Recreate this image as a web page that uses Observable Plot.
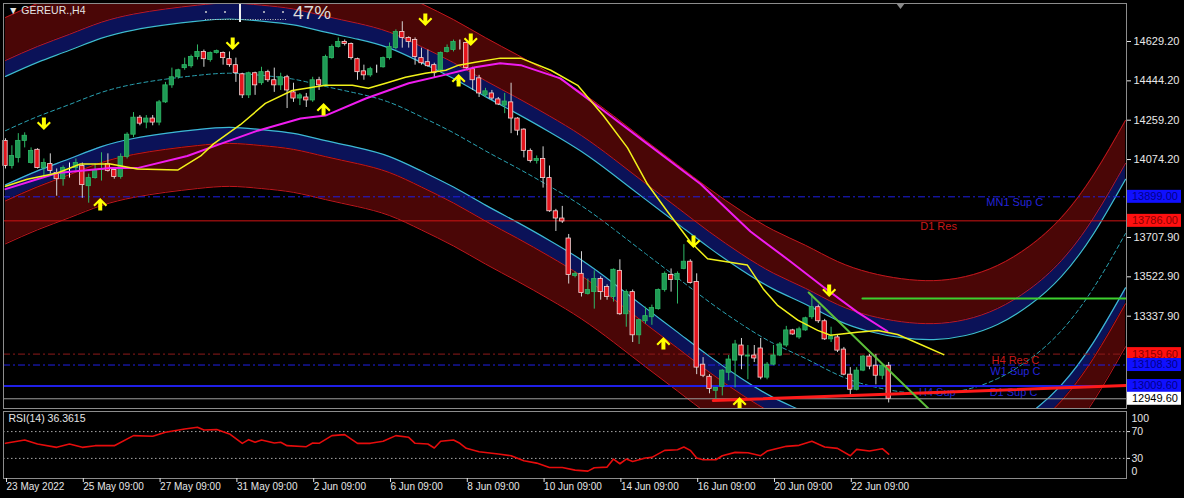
<!DOCTYPE html>
<html><head><meta charset="utf-8">
<script src="https://cdn.jsdelivr.net/npm/d3@7"></script>
<script src="https://cdn.jsdelivr.net/npm/@observablehq/plot@0.6"></script>
<style>
html,body{margin:0;padding:0;background:#000;}
#chart{position:relative;width:1184px;height:498px;background:#000;overflow:hidden;font-family:"Liberation Sans",Arial,sans-serif;}
#chart > svg{position:absolute;left:0;}
.ov{position:absolute;color:#e2e2e2;white-space:nowrap;font-family:"Liberation Sans",Arial,sans-serif;}
</style></head><body><div id="chart"></div>
<script>
// ---------- DATA ----------
const symbolName = "GEREUR.,H4";
const progressText = "47%";
const opens = [14162,14044,14082,14162,14058,14120,14034,14053,14011,13982,
14039,14034,14044,13949,13987,14025,14053,14025,13992,14087,
14191,14271,14248,14267,14248,14343,14423,14461,14504,14513,
14556,14580,14542,14575,14575,14546,14518,14475,14376,14480,
14433,14485,14447,14423,14461,14390,14361,14366,14352,14447,
14423,14551,14603,14627,14617,14546,14489,14470,14510,14508,
14551,14598,14674,14646,14636,14551,14532,14518,14494,14580,
14589,14622,14622,14499,14456,14376,14385,14357,14328,14343,
14267,14215,14115,14068,14077,13987,13831,13797,13703,13527,
13537,13442,13451,13513,13475,13428,13551,13347,13451,13248,
13314,13333,13371,13461,13532,13508,13560,13594,13499,13110,
13053,12987,13006,13072,13129,13200,13148,13153,13186,13049,
13110,13153,13200,13271,13238,13271,13333,13380,13314,13229,
13238,13181,13063,12992,13082,13148,13105,13058,13105];
const highs = [14172,14139,14196,14200,14129,14125,14077,14101,14030,14044,
14058,14077,14058,14006,14053,14106,14101,14030,14101,14200,
14295,14281,14281,14281,14352,14437,14504,14499,14551,14565,
14613,14589,14580,14589,14580,14580,14551,14480,14485,14485,
14508,14494,14504,14480,14470,14433,14385,14385,14461,14461,
14565,14613,14646,14636,14622,14551,14518,14508,14518,14556,
14622,14684,14722,14651,14646,14598,14589,14527,14580,14613,
14636,14636,14627,14508,14470,14409,14399,14366,14385,14433,
14271,14219,14124,14091,14134,14044,13840,13854,13722,13546,
13641,13513,13551,13523,13485,13560,13603,13461,13461,13323,
13380,13390,13466,13546,13560,13546,13674,13603,13537,13143,
13063,13001,13086,13153,13224,13233,13200,13200,13233,13120,
13200,13214,13290,13276,13286,13333,13437,13390,13323,13286,
13248,13191,13096,13096,13153,13158,13158,13110,13120];
const lows = [14030,14030,14058,14129,14053,14030,13987,14006,13902,13949,
13987,14020,13892,13869,13982,13973,14015,13982,13982,14077,
14177,14233,14219,14233,14233,14338,14409,14452,14494,14504,
14542,14508,14532,14570,14518,14508,14437,14361,14361,14376,
14423,14437,14390,14399,14314,14343,14328,14319,14343,14399,
14414,14546,14598,14608,14542,14447,14447,14461,14480,14504,
14542,14589,14598,14598,14518,14518,14508,14456,14485,14575,
14580,14589,14494,14399,14366,14366,14352,14328,14290,14196,
14186,14082,14058,14053,13940,13826,13736,13774,13489,13518,
13428,13437,13371,13413,13413,13404,13342,13286,13214,13205,
13300,13295,13366,13451,13451,13395,13556,13489,13063,13049,
12973,12939,12963,13034,13001,13086,13039,13120,13039,13039,
13105,13148,13191,13248,13229,13267,13323,13304,13224,13214,
13167,13058,12963,12987,13077,13086,13015,13039,12930];
const closes = [14044,14091,14162,14186,14115,14034,14058,14020,13982,14034,
14039,14058,13954,13987,14025,14030,14020,13992,14087,14191,
14271,14243,14267,14248,14343,14423,14461,14494,14518,14556,
14580,14546,14575,14584,14551,14518,14480,14376,14480,14423,
14485,14447,14423,14461,14399,14361,14376,14352,14447,14423,
14556,14603,14627,14617,14551,14485,14470,14499,14510,14551,
14603,14674,14646,14627,14556,14527,14513,14480,14575,14598,
14627,14622,14504,14447,14385,14395,14361,14333,14347,14267,
14210,14115,14068,14077,13987,13831,13797,13783,13532,13537,
13447,13461,13513,13451,13428,13556,13347,13451,13248,13319,
13338,13376,13461,13537,13508,13537,13594,13494,13096,13058,
12996,13001,13082,13134,13205,13153,13153,13139,13049,13110,
13153,13205,13271,13252,13276,13328,13380,13314,13229,13243,
13176,13063,12992,13082,13148,13101,13058,13105,12949.6];

// polynomial regression channel (centre line, read every 5 bars incl. projection)
const chanBars = [0,5,10,15,20,25,30,35,40,45,50,55,60,65,70,75,80,85,90,95,100,105,110,115,120,125,130,135,140,145,150,155,160,165,170,175];
const chanMid = [14210,14276,14333,14390,14428,14452,14470,14480,14470,14452,14418,14385,14343,14275,14200,14115,14034,13949,13857,13748,13632,13518,13404,13300,13210,13139,13063,13011,12982,12973,12992,13044,13135,13270,13470,13726];
const chanOffsets = [255, 330, 532]; // inner (cyan), middle (red), outer (red)

// moving averages (bar index, value)
const yellowBars = [0,3.4,8.1,11.7,16.4,20.6,26.9,30.5,32.5,36.7,40.6,44.8,50,54.2,56.7,59.4,62.5,65.6,68.8,70.8,73.4,77.3,80.5,85.2,89.4,93.4,97.2,100.3,103.4,107,109.7,115.9,118.4,120.6,123.8,126.9,128.9,133.1,136.3,139.4,143,146.6];
const yellowVals = [13949,13982,14011,14053,14053,14030,14025,14091,14148,14238,14338,14399,14423,14423,14409,14433,14461,14480,14494,14518,14532,14551,14551,14494,14423,14281,14129,13959,13831,13688,13608,13579,13466,13390,13319,13271,13248,13262,13271,13252,13205,13157];
const magentaBars = [0,8.1,16.4,20.6,28.4,33.6,39.4,46.1,50,56.3,63,68.3,73.4,77.3,80.5,86.7,93,100.3,108.6,116.4,122.7,127.8,133.1,137.8];
const magentaVals = [13935,14011,14034,14034,14091,14148,14210,14267,14281,14361,14433,14470,14508,14527,14518,14456,14314,14148,13959,13736,13594,13475,13357,13267];

// fractal arrows
const downArrowBars = [6, 35.5, 65.6, 72.7, 107.5, 128.7];
const downArrowPrices = [14239, 14615, 14728, 14634, 13684, 13454];
const upArrowBars = [14.8, 49.7, 70.8, 102.8, 114.7];
const upArrowPrices = [13868, 14314, 14450, 13214, 12932];

// horizontal levels
const levelNames = ["MN1 Sup C", "D1 Res", "H4 Res C", "W1 Sup C", "D1 Sup C"];
const levelPrices = [13899.0, 13786.0, 13159.6, 13108.3, 13009.6];
const bidPrice = 12949.6;
const levelTextNames = ["MN1 Sup C", "D1 Res", "H4 Res C", "W1 Sup C", "H4 Sup", "D1 Sup C"];
const levelTextBars = [157.7, 145.8, 157.8, 157.8, 145.6, 157.5];
const levelTextPrices = [13899.0, 13786.0, 13159.6, 13108.3, 13009.6, 13009.6];

// trend lines
const redTrendBars = [110.6, 175.16];
const redTrendPrices = [12941, 13012];
const greenLevelBars = [133.9, 175.16];
const greenLevelPrices = [13421, 13421];
const greenTrendBars = [125.5, 144.2];
const greenTrendPrices = [13449, 12904];

// axes
const priceTicks = [14629.2, 14444.2, 14259.2, 14074.2, 13707.9, 13522.9, 13337.9];
const timeTickBars = [0,12,24,36,48,60,72,84,96,108,120,132];
const timeLabels = ["23 May 2022","25 May 09:00","27 May 09:00","31 May 09:00","2 Jun 09:00","6 Jun 09:00","8 Jun 09:00","10 Jun 09:00","14 Jun 09:00","16 Jun 09:00","20 Jun 09:00","22 Jun 09:00"];

// RSI(14)
const rsiBars = [0,3,5,8,10,12,14,17,20,23,25,28,30,31,33,35,37,38,39,40,42,43,44,47,48,49,51,53,55,57,59,61,63,64,66,67,68,70,71,72,74,77,79,81,83,85,87,89,91,92,94,95,96,97,98,100,101,103,105,106,107,108,109,111,112,114,116,118,119,122,124,126,128,130,132,133,135,137,138];
const rsiVals = [52.5,57.5,51.5,46.5,51.5,46.5,49,49,64,63,69,74,76.5,72.5,73,66.5,52.5,58,54,57.5,53,54,49,47.5,53,52.5,64,65.5,52.5,52.5,55.5,64,61.5,52.5,51.5,45.5,55.5,57.5,52.5,45,40,36.5,34,26.5,23,16.5,16.5,12.5,11,16,17,29,22,29,25.5,30.5,31.5,42,43,47,42,30.5,28,28,34,39,38.5,34,41,48,49.5,55.5,47,45,34,43.5,41,44.5,36.3615];
const rsiLevels = [70, 30];

// ---------- BUILD ----------
const FONT = "Liberation Sans, Arial, sans-serif";
const xDomain = [-0.3125, 175.16];
const yDomain = [12903.9, 14807.8];

const candles = opens.map((o, i) => ({i, o, h: highs[i], l: lows[i], c: closes[i]}));
const chan = chanBars.map((b, i) => ({b, m: chanMid[i]}));
const [oC, oR, oO] = chanOffsets;
const yellow = yellowBars.map((b, i) => ({b, v: yellowVals[i]}));
const magenta = magentaBars.map((b, i) => ({b, v: magentaVals[i]}));
const downs = downArrowBars.map((b, i) => ({b, p: downArrowPrices[i]}));
const ups = upArrowBars.map((b, i) => ({b, p: upArrowPrices[i]}));
const levelTexts = levelTextNames.map((t, i) => ({t, b: levelTextBars[i], p: levelTextPrices[i]}));
const rsi = rsiBars.map((b, i) => ({b, v: rsiVals[i]}));
const seg = (bs, ps) => bs.map((b, i) => ({b, p: ps[i]}));

const maroon = "#4a0606", navy = "#0b1258", chanRed = "#c0161c", cyan = "#3dbad2";
const blue = "#1f1fe6";
const band = (lo, hi, fill) => Plot.areaY(chan, {x: "b", y1: d => d.m + lo, y2: d => d.m + hi, fill, curve: "natural", clip: true});
const edge = (off, stroke, extra = {}) => Plot.line(chan, {x: "b", y: d => d.m + off, stroke, strokeWidth: 1, curve: "natural", clip: true, ...extra});

const levelStyle = {
  "MN1 Sup C": {stroke: blue, dash: "7,3,2,3", w: 1},
  "D1 Res": {stroke: "#d01414", dash: null, w: 1},
  "H4 Res C": {stroke: "#8e1a1a", dash: "7,3,2,3", w: 1},
  "W1 Sup C": {stroke: blue, dash: "7,3,2,3", w: 1},
  "D1 Sup C": {stroke: blue, dash: null, w: 2}
};
const textColor = t => t.includes("Res") ? "#c81818" : "#2424d8";

const downSym = {draw(ctx) {
  ctx.moveTo(-2, -7); ctx.lineTo(2, -7); ctx.lineTo(2, 0.5); ctx.lineTo(5.5, -3); ctx.lineTo(7, -1.5);
  ctx.lineTo(0, 5.5); ctx.lineTo(-7, -1.5); ctx.lineTo(-5.5, -3); ctx.lineTo(-2, 0.5); ctx.closePath();
}};
const upSym = {draw(ctx) {
  ctx.moveTo(-2, 7); ctx.lineTo(2, 7); ctx.lineTo(2, -0.5); ctx.lineTo(5.5, 3); ctx.lineTo(7, 1.5);
  ctx.lineTo(0, -5.5); ctx.lineTo(-7, 1.5); ctx.lineTo(-5.5, 3); ctx.lineTo(-2, -0.5); ctx.closePath();
}};

const isBull = d => d.c > d.o, isBear = d => d.c < d.o;

const main = Plot.plot({
  width: 1184, height: 410,
  marginLeft: 3, marginRight: 58, marginTop: 3, marginBottom: 2,
  x: {domain: xDomain, axis: null},
  y: {domain: yDomain, axis: null},
  style: {background: "transparent", color: "#e6e6e6", fontFamily: FONT, fontSize: "11px", overflow: "visible"},
  marks: [
    band(oR, oO, maroon), band(oC, oR, navy), band(-oR, -oC, navy), band(-oO, -oR, maroon),
    edge(oO, chanRed), edge(oR, chanRed), edge(-oR, chanRed), edge(-oO, chanRed),
    edge(oC, cyan, {strokeWidth: 1.2}), edge(-oC, cyan, {strokeWidth: 1.2}),
    edge(0, "#2aa3b3", {strokeDasharray: "4,3"}),
    ...levelNames.map((nm, i) => Plot.ruleY([levelPrices[i]], {stroke: levelStyle[nm].stroke, strokeWidth: levelStyle[nm].w, strokeDasharray: levelStyle[nm].dash})),
    Plot.ruleY([bidPrice], {stroke: "#9c9c9c", strokeWidth: 1}),
    Plot.text(levelTexts, {x: "b", y: "p", text: "t", fill: d => textColor(d.t), dy: 6, fontSize: 11}),
    // candles
    Plot.ruleX(candles, {x: "i", y1: "l", y2: "h", stroke: d => isBull(d) ? "#2fb866" : isBear(d) ? "#d4d4d4" : "#ffffff", strokeWidth: 1}),
    Plot.rect(candles, {x1: d => d.i - 0.34, x2: d => d.i + 0.34, y1: "o", y2: "c",
      fill: d => isBull(d) ? "#1e9a55" : isBear(d) ? "#e3141c" : "#ffffff",
      stroke: d => isBull(d) ? "#2fb866" : isBear(d) ? "#f4d8d8" : "#ffffff", strokeWidth: 0.8}),
    // trend objects
    Plot.line(seg(redTrendBars, redTrendPrices), {x: "b", y: "p", stroke: "#ff1a1a", strokeWidth: 3, clip: true}),
    Plot.line(seg(greenLevelBars, greenLevelPrices), {x: "b", y: "p", stroke: "#3ccf2e", strokeWidth: 2, clip: true}),
    Plot.line(seg(greenTrendBars, greenTrendPrices), {x: "b", y: "p", stroke: "#5cbf3a", strokeWidth: 2, clip: true}),
    // moving averages
    Plot.line(magenta, {x: "b", y: "v", stroke: "#f01cf0", strokeWidth: 2, clip: true}),
    Plot.line(yellow, {x: "b", y: "v", stroke: "#f2f21a", strokeWidth: 1.5, clip: true}),
    // arrows
    Plot.dot(downs, {x: "b", y: "p", symbol: downSym, fill: "#ffff00", stroke: null, clip: true}),
    Plot.dot(ups, {x: "b", y: "p", symbol: upSym, fill: "#ffff00", stroke: null, clip: true}),
    Plot.frame({stroke: "#8c8c8c"}),
    Plot.axisY({anchor: "right", label: null, ticks: priceTicks, tickFormat: d => d.toFixed(2), tickSize: 4, tickPadding: 3, fontSize: 11, color: "#e8e8e8"})
  ]
});
main.style.top = "0px";
document.getElementById("chart").appendChild(main);

// price tags on the axis for levels and bid
const ys = main.scale("y");
const tagData = levelNames.map((nm, i) => ({p: levelPrices[i], bg: nm.includes("Res") ? "#ff1010" : "#1010ff", fg: nm.includes("Res") ? "#8a0000" : "#00008a"}))
  .concat([{p: bidPrice, bg: "#ffffff", fg: "#000000"}]);
const sv = d3.select(main);
tagData.forEach(t => {
  const y = ys.apply(t.p);
  sv.append("rect").attr("x", 1127).attr("y", y - 6.5).attr("width", 54).attr("height", 13).attr("fill", t.bg);
  sv.append("text").attr("x", 1132).attr("y", y).attr("dy", "0.36em").attr("fill", t.fg)
    .attr("text-anchor", "start").attr("font-size", 11).attr("font-family", FONT).text(t.p.toFixed(2));
});

const rsiPlot = Plot.plot({
  width: 1184, height: 89,
  marginLeft: 3, marginRight: 58, marginTop: 2, marginBottom: 20,
  x: {domain: xDomain, axis: null},
  y: {domain: [0, 100], axis: null},
  style: {background: "transparent", color: "#e6e6e6", fontFamily: FONT, fontSize: "10px", overflow: "visible"},
  marks: [
    Plot.ruleY(rsiLevels, {stroke: "#a8a8a8", strokeDasharray: "1.5,2.5"}),
    Plot.line(rsi, {x: "b", y: "v", stroke: "#e60c0c", strokeWidth: 1.6}),
    Plot.text([`RSI(14) ${rsiVals[rsiVals.length - 1].toFixed(4)}`], {frameAnchor: "top-left", dx: 5, dy: 7, lineAnchor: "middle", textAnchor: "start", fill: "#e6e6e6", fontSize: 10.5}),
    Plot.frame({stroke: "#8c8c8c"}),
    Plot.axisY({anchor: "right", label: null, ticks: rsiLevels, tickSize: 3, tickPadding: 2, fontSize: 10.5, color: "#e6e6e6"}),
    Plot.text([100], {y: d => d, text: d => String(d), frameAnchor: "right", dx: 5, dy: 7, textAnchor: "start", fill: "#e6e6e6", fontSize: 10.5}),
    Plot.text([0], {y: d => d, text: d => String(d), frameAnchor: "right", dx: 5, dy: -7, textAnchor: "start", fill: "#e6e6e6", fontSize: 10.5}),
    Plot.axisX({anchor: "bottom", label: null, ticks: timeTickBars, tickFormat: d => timeLabels[timeTickBars.indexOf(d)], tickSize: 4, tickPadding: 0, textAnchor: "start", dx: 1, fontSize: 10, color: "#e6e6e6"})
  ]
});
rsiPlot.style.top = "409px";
document.getElementById("chart").appendChild(rsiPlot);

// header overlays
const chart = document.getElementById("chart");
const title = document.createElement("div");
title.className = "ov";
title.style.cssText = "left:8px;top:4px;font-size:10.5px;color:#e4e4e4;";
title.textContent = "\u25BC " + symbolName;
chart.appendChild(title);
const pct = document.createElement("div");
pct.className = "ov";
pct.style.cssText = "left:293px;top:2px;font-size:19px;color:#dcdcdc;";
pct.textContent = progressText;
chart.appendChild(pct);
const deco = d3.select(chart).append("svg").attr("width", 1184).attr("height", 30).style("top", "0px");
deco.append("line").attr("x1", 205).attr("x2", 286).attr("y1", 19.5).attr("y2", 19.5).attr("stroke", "#bdbdbd").attr("stroke-dasharray", "1,1.5");
[206, 225, 264, 283].forEach(x => deco.append("circle").attr("cx", x).attr("cy", 12).attr("r", 1).attr("fill", "#cfcfcf"));
deco.append("line").attr("x1", 240).attr("x2", 240).attr("y1", 4).attr("y2", 22).attr("stroke", "#f0f0f0").attr("stroke-width", 2);
deco.append("path").attr("d", "M896,3 L905,3 L900.5,9 Z").attr("fill", "#8a8a8a");
</script></body></html>
